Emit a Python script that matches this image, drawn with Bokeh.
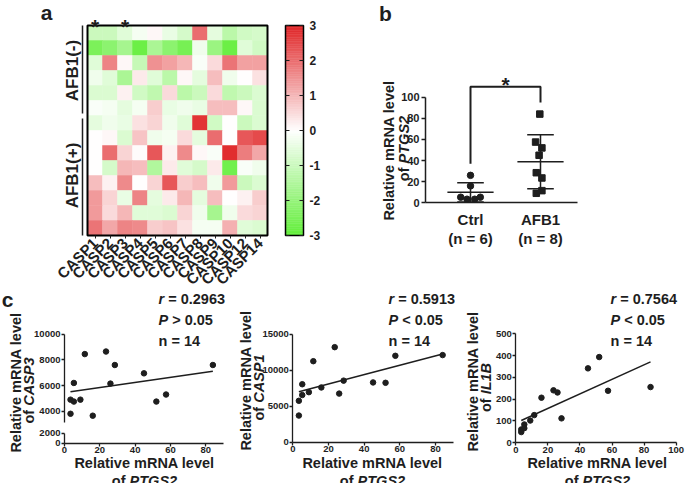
import numpy as np
from bokeh.plotting import figure
from bokeh.layouts import row, column
from bokeh.models import (ColumnDataSource, Range1d, LinearAxis, FixedTicker,
                          Label, LinearColorMapper)
from bokeh.transform import transform
from bokeh.embed import file_html
from bokeh.resources import INLINE

FONT = "Liberation Sans"
INK = "#1e1e1e"

# ---------------- data ----------------
genes = ["CASP1", "CASP2", "CASP3", "CASP4", "CASP5", "CASP6", "CASP7",
         "CASP8", "CASP9", "CASP10", "CASP12", "CASP14"]
heat_rows = [
    [-1.0, -1.0, -0.6, -0.2, 0.1, -0.4, -0.8, 2.0, -0.5, -1.3, -0.9, -0.8],
    [-2.5, -2.2, -1.7, -2.8, -1.6, -2.2, -2.6, -0.3, -1.9, -2.8, -0.6, -0.9],
    [-0.6, 1.7, 0.1, -1.1, 1.5, 1.3, 1.0, -0.1, 0.5, 1.9, 1.3, 1.3],
    [-0.3, -0.6, -1.6, 0.3, -0.6, -1.3, 0.1, -0.5, 0.9, -0.3, 0.0, 0.4],
    [-0.7, -0.7, 0.2, -0.9, -1.2, 0.5, -1.3, -1.0, 0.5, -1.2, -1.0, -0.7],
    [-0.1, -0.2, -0.5, -0.2, 0.7, -0.4, -0.3, -0.4, 0.9, 0.9, 0.1, -0.7],
    [-0.5, -0.3, -0.4, 0.4, 0.6, -0.3, -0.6, 2.8, -0.9, 0.0, -1.0, -0.7],
    [0.0, 0.1, -0.7, 0.8, -0.3, -0.2, 0.5, -0.5, 2.0, 0.0, 2.3, 2.5],
    [0.0, 2.0, 0.6, 0.05, 2.3, 0.2, 1.6, 0.1, -0.1, 2.9, 1.8, 1.2],
    [0.0, -0.8, 1.0, 0.9, -1.5, 0.3, -0.6, -0.8, 0.3, -2.7, -0.1, -0.3],
    [0.9, 0.2, 1.6, 0.0, 0.6, 2.3, 0.7, 0.9, -0.3, 1.4, -1.0, -0.7],
    [1.4, 0.6, -0.4, 1.7, -0.5, 0.3, 1.0, -0.5, 0.9, 0.0, 0.2, 0.7],
    [1.4, 0.5, 1.0, -0.6, -0.6, -0.7, 0.6, -0.3, -1.7, -0.3, 0.5, 0.6],
    [1.9, 1.2, 1.7, 1.6, 0.7, 0.8, 0.4, -0.2, -0.2, 1.1, -0.6, -0.7],
]
groups = ["AFB1(-)", "AFB1(+)"]
group_sizes = [6, 8]
sig_genes = ["CASP1", "CASP3"]
cbar_ticks = [-3, -2, -1, 0, 1, 2, 3]

b_groups = ["Ctrl", "AFB1"]
b_n = ["(n = 6)", "(n = 8)"]
ctrl_vals = [26, 16, 5.3, 3.4, 3.4, 5.3]
afb1_vals = [84, 57.5, 52, 45, 28.5, 23.5, 11.5, 9]
b_yticks = [0, 20, 40, 60, 80, 100]

ptgs2 = [3.4, 3.4, 5.3, 5.3, 9, 11.5, 16, 23.5, 26, 28.5, 45, 52, 57.5, 84]
casp3 = [3800, 4900, 4750, 6200, 4900, 8450, 3650, 8650, 6150, 7600, 6950, 4750, 5300, 7600]
casp1 = [3700, 5750, 6550, 8050, 6950, 11250, 7600, 13200, 6750, 8550, 8300, 8250, 12000, 12100]
il1b = [60, 48, 83, 66, 101, 126, 206, 240, 230, 111, 341, 393, 238, 255]
c_r = ["0.2963", "0.5913", "0.7564"]
c_p = [">", "<", "<"]
c_n = 14
c1_up_ticks = [4000, 6000, 8000, 10000]
c1_low_ticks = [0, 2000]
c2_ticks = [0, 5000, 10000, 15000]
c3_ticks = [0, 100, 200, 300, 400, 500]
x90_ticks = [0, 20, 40, 60, 80]
x100_ticks = [0, 20, 40, 60, 80, 100]

# point jitter (horizontal offsets, category units) for panel b
ctrl_jitter = [0.0, 0.0, -0.14, -0.05, 0.06, 0.14]
afb1_jitter = [-0.01, -0.07, 0.02, -0.02, -0.06, 0.02, 0.02, -0.06]

# ---------------- helpers ----------------
AW = {' ': 278, '(': 333, ')': 333, '=': 584, '.': 278, '<': 584, '>': 584, '*': 389, '-': 333,
      'A': 722, 'B': 722, 'C': 722, 'F': 611, 'G': 778, 'I': 278, 'L': 611, 'M': 833, 'N': 722,
      'P': 667, 'R': 722, 'S': 667, 'T': 611, 'a': 556, 'e': 556, 'f': 333, 'i': 278, 'l': 278,
      'm': 889, 'n': 611, 'o': 611, 'r': 389, 't': 333, 'v': 556}


def tw(s, size):
    return sum(AW.get(c, 556) for c in s) / 1000.0 * size


class Map:
    """pixel <-> data mapping for a figure whose frame fills its whole canvas"""

    def __init__(self, L, T, W, H, xa, xb, ya, yb):
        self.L, self.T, self.W, self.H = L, T, W, H
        self.kx = (xb[1] - xa[1]) / (xb[0] - xa[0])
        self.xp, self.xv = xa
        self.ky = (yb[1] - ya[1]) / (yb[0] - ya[0])
        self.yp, self.yv = ya

    def x(self, px):
        return self.xv + (px - self.xp) * self.kx

    def y(self, py):
        return self.yv + (py - self.yp) * self.ky

    def xr(self):
        return Range1d(self.x(self.L), self.x(self.L + self.W))

    def yr(self):
        return Range1d(self.y(self.T + self.H), self.y(self.T))


def mk_fig(m):
    p = figure(width=m.W, height=m.H, x_range=m.xr(), y_range=m.yr(), output_backend="svg",
               toolbar_location=None, min_border=0, x_axis_location=None, y_axis_location=None,
               title=None)
    p.grid.visible = False
    p.outline_line_color = None
    p.background_fill_color = "white"
    p.border_fill_color = "white"
    return p


def lab(p, m, ix, iy, text, size, style="bold", align="center", baseline="middle", angle=0.0):
    p.add_layout(Label(x=m.x(ix), y=m.y(iy), text=text, text_font=FONT,
                       text_font_size=f"{size}px", text_font_style=style, text_color=INK,
                       text_align=align, text_baseline=baseline, angle=angle))


def mixed(p, m, ix, iy, parts, size, angle=0.0, anchor="center"):
    total = sum(tw(t, size) for t, _ in parts)
    pos = -total / 2 if anchor == "center" else 0.0
    for t, st in parts:
        lead = len(t) - len(t.lstrip(" "))
        pos += lead * tw(" ", size)
        core = t.strip(" ")
        if angle == 0:
            px, py = ix + pos, iy
        else:
            px, py = ix, iy - pos
        lab(p, m, px, py, core, size, st, align="left", angle=angle)
        pos += tw(core, size) + (len(t) - lead - len(core)) * tw(" ", size)


def add_axis(p, side, loc, ticks, size, bounds=None, overrides=None, tick_out=3, tick_in=0,
             standoff=2, lw=1.3, xr="default", yr="default"):
    ax = LinearAxis(fixed_location=loc, ticker=FixedTicker(ticks=ticks),
                    x_range_name=xr, y_range_name=yr)
    ax.axis_line_color = INK
    ax.axis_line_width = lw
    ax.major_tick_line_color = INK
    ax.major_tick_line_width = lw
    ax.major_tick_in = tick_in
    ax.major_tick_out = tick_out
    ax.minor_tick_line_color = None
    ax.major_label_text_font = FONT
    ax.major_label_text_font_size = f"{size}px"
    ax.major_label_text_font_style = "bold"
    ax.major_label_text_color = INK
    ax.major_label_standoff = standoff
    if bounds is not None:
        ax.bounds = bounds
    if overrides is not None:
        ax.major_label_overrides = overrides
    p.add_layout(ax, side)
    return ax


# palette green -> white -> red
GREEN, WHITE, RED = (98, 238, 58), (255, 255, 255), (224, 38, 40)
pal = []
for i in range(256):
    t = i / 255 * 2 - 1
    a, b = (WHITE, GREEN) if t < 0 else (WHITE, RED)
    f = abs(t)
    pal.append("#%02x%02x%02x" % tuple(int(round(u + (v - u) * f)) for u, v in zip(a, b)))
mapper = LinearColorMapper(palette=pal, low=cbar_ticks[0], high=cbar_ticks[-1])

# ---------------- panel a: heatmap + colour bar ----------------
n_rows, n_cols = len(heat_rows), len(genes)
mA = Map(0, 0, 370, 290, (87, 0), (267, n_cols), (235, 0), (25, n_rows))
mCB = Map(0, 0, 370, 290, (285, 0), (303, 1), (235, cbar_ticks[0]), (25, cbar_ticks[-1]))
pa = mk_fig(mA)
pa.extra_x_ranges = {"cbx": mCB.xr()}
pa.extra_y_ranges = {"cby": mCB.yr()}

xs, ys, vs = [], [], []
for i, r in enumerate(heat_rows):
    for j, v in enumerate(r):
        xs.append(j + 0.5)
        ys.append(n_rows - i - 0.5)
        vs.append(v)
src = ColumnDataSource(dict(x=xs, y=ys, v=vs))
pa.rect(x="x", y="y", width=1, height=1, source=src,
        fill_color=transform("v", mapper), line_color=transform("v", mapper), line_width=0.5)
pa.quad(left=0, right=n_cols, bottom=0, top=n_rows, fill_color=None,
        line_color="black", line_width=2)

hx = add_axis(pa, "below", 0, [j + 0.5 for j in range(n_cols)], 15,
              overrides={j + 0.5: g for j, g in enumerate(genes)}, tick_out=3, standoff=2, lw=1)
hx.axis_line_color = None
hx.major_label_orientation = np.pi / 4

top = n_rows
gaps = [(0.15, 0.0), (0.0, 0.18)]
for name, size, (gb, gt) in zip(groups, group_sizes, gaps):
    lo, hi = top - size, top
    c = (lo + hi) / 2
    gax = add_axis(pa, "left", mA.x(82), [c], 17, bounds=(lo + gb, hi - gt),
                   overrides={c: name}, tick_out=0, standoff=1, lw=1.5)
    gax.major_tick_line_color = None
    gax.major_label_orientation = "vertical"
    top = lo

for g in sig_genes:
    pa.add_layout(Label(x=genes.index(g) + 0.5, y=mA.y(26), text="*", text_font=FONT,
                        text_font_size="21px", text_font_style="bold", text_color=INK,
                        text_align="center", text_baseline="alphabetic"))
lab(pa, mA, 46, 12, "a", 21)

levels = np.linspace(cbar_ticks[0], cbar_ticks[-1], 121)
csrc = ColumnDataSource(dict(b=levels[:-1], t=levels[1:], v=(levels[:-1] + levels[1:]) / 2))
pa.quad(left=0, right=1, bottom="b", top="t", source=csrc, x_range_name="cbx", y_range_name="cby",
        fill_color=transform("v", mapper), line_color=transform("v", mapper), line_width=0.5)
pa.quad(left=0, right=1, bottom=cbar_ticks[0], top=cbar_ticks[-1], x_range_name="cbx",
        y_range_name="cby", fill_color=None, line_color="black", line_width=1.5)
rax = add_axis(pa, "right", 1, cbar_ticks, 12, overrides={t: str(t) for t in cbar_ticks},
               tick_out=0, tick_in=4, standoff=6, lw=1.2, xr="cbx", yr="cby")
rax.axis_line_color = None
lax = add_axis(pa, "left", 0, cbar_ticks, 12, tick_out=0, tick_in=4, standoff=0, lw=1.2,
               xr="cbx", yr="cby")
lax.axis_line_color = None
lax.major_label_text_color = None

# ---------------- panel b ----------------
mB = Map(370, 0, 315, 290, (470, 1), (540, 2), (202.3, 0), (96.7, 100))
pb = mk_fig(mB)
add_axis(pb, "left", mB.x(425), b_yticks, 11, bounds=(b_yticks[0], b_yticks[-1]),
         tick_out=4, standoff=2, lw=1.5)
add_axis(pb, "below", 0, [1, 2], 15, bounds=(mB.x(425), mB.x(577)),
         overrides={1: b_groups[0], 2: b_groups[1]}, tick_out=0, standoff=8, lw=1.5)

for k, (vals, jit, marker) in enumerate([(ctrl_vals, ctrl_jitter, "circle"),
                                          (afb1_vals, afb1_jitter, "square")]):
    pos = k + 1
    pb.scatter(x=[pos + j for j in jit], y=vals, marker=marker, size=6.5,
               fill_color=INK, line_color=INK)
    mu, sd = float(np.mean(vals)), float(np.std(vals, ddof=1))
    pb.segment(x0=[pos - 0.33, pos - 0.19, pos - 0.19, pos],
               x1=[pos + 0.33, pos + 0.19, pos + 0.19, pos],
               y0=[mu, mu + sd, mu - sd, mu - sd], y1=[mu, mu + sd, mu - sd, mu + sd],
               line_color=INK, line_width=1.5)
    pb.add_layout(Label(x=pos, y=mB.y(238), text=b_n[k], text_font=FONT, text_font_size="15px",
                        text_font_style="bold", text_color=INK, text_align="center",
                        text_baseline="middle"))

BR = 110
pb.line(x=[1, 1, 2, 2], y=[max(ctrl_vals) + 11, BR, BR, max(afb1_vals) + 11],
        line_color=INK, line_width=2)
pb.add_layout(Label(x=1.5, y=mB.y(84), text="*", text_font=FONT, text_font_size="21px",
                    text_font_style="bold", text_color=INK, text_align="center",
                    text_baseline="alphabetic"))
lab(pb, mB, 385, 13, "b", 21)
lab(pb, mB, 388, 150, "Relative mRNA level", 14.5, angle=np.pi / 2)
mixed(pb, mB, 403, 148, [("of ", "bold"), ("PTGS2", "bold italic")], 14.5, angle=np.pi / 2)


# ---------------- panel c ----------------
def scatter_fit(p, xv, yv):
    p.scatter(x=xv, y=yv, marker="circle", size=5.5, fill_color=INK, line_color=INK)
    sl, ic = np.polyfit(xv, yv, 1)
    x0, x1 = min(xv), max(xv)
    p.line(x=[x0, x1], y=[sl * x0 + ic, sl * x1 + ic], line_color=INK, line_width=1.5)


def stats(p, m, ix, k):
    mixed(p, m, ix, 298, [("r", "bold italic"), (" = " + c_r[k], "bold")], 14.5, anchor="left")
    mixed(p, m, ix, 319, [("P", "bold italic"), (" " + c_p[k] + "  0.05", "bold")], 14.5,
          anchor="left")
    lab(p, m, ix, 340, f"n = {c_n}", 14.5, align="left")


def xtitle(p, m, cx):
    lab(p, m, cx, 462, "Relative mRNA level", 14.5)
    mixed(p, m, cx, 480, [("of ", "bold"), ("PTGS2", "bold italic")], 14.5)


def ytitle(p, m, x1, y1, x2, y2, gene):
    lab(p, m, x1, y1, "Relative mRNA level", 14.5, angle=np.pi / 2)
    mixed(p, m, x2, y2, [("of ", "bold"), (gene, "bold italic")], 14.5, angle=np.pi / 2)


# C1 (broken y axis)
m1 = Map(0, 290, 230, 193, (64, 0), (205.3, 80), (410.7, 4000), (333.7, 10000))
m1low = Map(0, 290, 230, 193, (64, 0), (205.3, 80), (442.7, 0), (432.7, 2000))
c1 = mk_fig(m1)
c1.extra_y_ranges = {"low": m1low.yr()}
add_axis(c1, "left", 0, c1_up_ticks, 9.5, bounds=(m1.y(421.7), c1_up_ticks[-1]),
         tick_out=3, standoff=1)
add_axis(c1, "left", 0, c1_low_ticks, 9.5, bounds=(c1_low_ticks[0], c1_low_ticks[-1]),
         tick_out=3, standoff=1, yr="low")
add_axis(c1, "below", 0, x90_ticks, 9.5, bounds=(0, m1.x(223)), tick_out=3, standoff=1, yr="low")
scatter_fit(c1, ptgs2, casp3)
stats(c1, m1, 158, 0)
xtitle(c1, m1, 144)
ytitle(c1, m1, 15, 382, 28.5, 390, "CASP3")
lab(c1, m1, 7, 299, "c", 21)

# C2
m2 = Map(230, 290, 225, 193, (292.3, 0), (435, 80), (441.7, 0), (333.7, 15000))
c2 = mk_fig(m2)
add_axis(c2, "left", 0, c2_ticks, 9.5, bounds=(c2_ticks[0], c2_ticks[-1]), tick_out=3, standoff=1)
add_axis(c2, "below", 0, x90_ticks, 9.5, bounds=(0, m2.x(453)), tick_out=3, standoff=1)
scatter_fit(c2, ptgs2, casp1)
stats(c2, m2, 388, 1)
xtitle(c2, m2, 372)
ytitle(c2, m2, 245, 380, 258, 387, "CASP1")

# C3
m3 = Map(455, 290, 230, 193, (515.3, 0), (675.7, 100), (442, 0), (333.3, 500))
c3 = mk_fig(m3)
add_axis(c3, "left", 0, c3_ticks, 9.5, bounds=(c3_ticks[0], c3_ticks[-1]), tick_out=3, standoff=1)
add_axis(c3, "below", 0, x100_ticks, 9.5, bounds=(x100_ticks[0], x100_ticks[-1]),
         tick_out=3, standoff=1)
scatter_fit(c3, ptgs2, il1b)
stats(c3, m3, 610, 2)
xtitle(c3, m3, 597)
ytitle(c3, m3, 472, 381, 485, 387, "IL1B")

layout = column(row(pa, pb), row(c1, c2, c3))
open("out.html", "w").write(file_html(layout, INLINE, "chart"))
